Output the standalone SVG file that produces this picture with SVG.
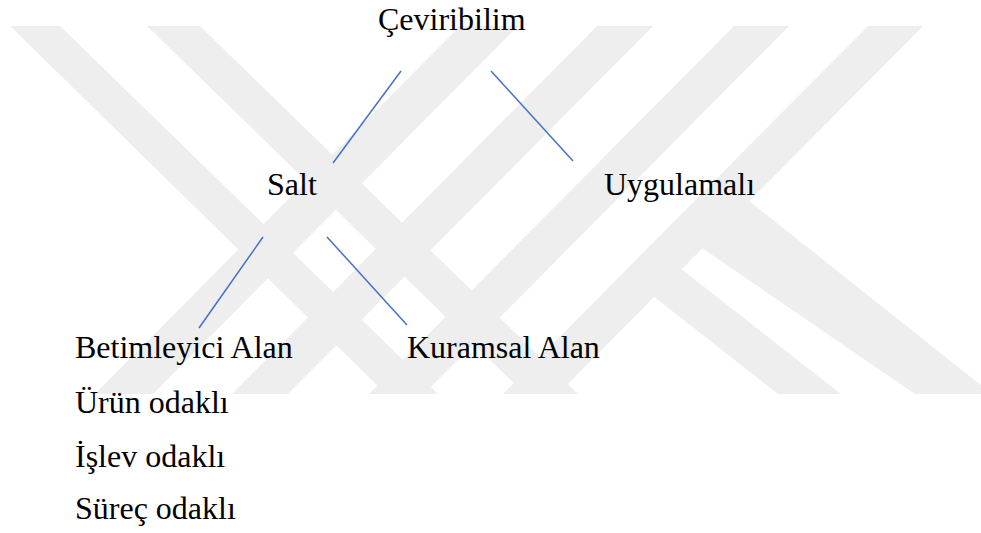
<svg xmlns="http://www.w3.org/2000/svg" width="981" height="533" viewBox="0 0 981 533">
  <style>
    .wm { fill: #eeeeee; stroke: none; }
    .lbl { font-family: "Liberation Serif", "Times New Roman", serif; font-size: 32px; fill: #000000; }
    .link { stroke: #4472c4; stroke-width: 1.5; fill: none; stroke-linecap: butt; }
  </style>
  <rect x="0" y="0" width="981" height="533" fill="#ffffff"/>

  <!-- background watermark bands -->
  <g id="watermark">
    <polygon class="wm" points="10,26 60,26 438,394 386,394"/>
    <polygon class="wm" points="147,26 200,26 578,394 525,394"/>
    <polygon class="wm" points="460,26 518,26 153,394 95,394"/>
    <polygon class="wm" points="597,26 653,26 288,394 232,394"/>
    <polygon class="wm" points="734,26 789,26 424,394 369,394"/>
    <polygon class="wm" points="868,26 923,26 558,394 503,394"/>
    <polygon class="wm" points="748,200 992,394 915,394 702,248"/>
    <polygon class="wm" points="680,268 841,394 778,394 653,296"/>
  </g>

  <!-- connectors -->
  <g id="connectors">
    <line class="link" x1="401" y1="71" x2="333" y2="163"/>
    <line class="link" x1="491" y1="71" x2="573" y2="161"/>
    <line class="link" x1="263" y1="237" x2="199" y2="328"/>
    <line class="link" x1="327" y1="237" x2="407" y2="325"/>
  </g>

  <g id="node-ceviribilim"><text class="lbl" x="378" y="30">Çeviribilim</text></g>
  <g id="node-salt"><text class="lbl" x="267" y="195">Salt</text></g>
  <g id="node-uygulamali"><text class="lbl" x="604" y="195">Uygulamalı</text></g>
  <g id="node-betimleyici"><text class="lbl" x="75" y="358">Betimleyici Alan</text></g>
  <g id="node-kuramsal"><text class="lbl" x="407" y="358">Kuramsal Alan</text></g>
  <g id="node-urun"><text class="lbl" x="75" y="413">Ürün odaklı</text></g>
  <g id="node-islev"><text class="lbl" x="75" y="467">İşlev odaklı</text></g>
  <g id="node-surec"><text class="lbl" x="75" y="519">Süreç odaklı</text></g>
</svg>
